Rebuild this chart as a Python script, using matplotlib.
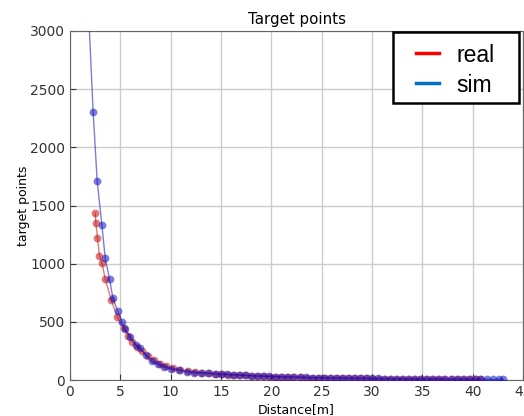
import matplotlib
matplotlib.use("Agg")
import matplotlib.pyplot as plt
from matplotlib.lines import Line2D
from matplotlib.patches import Rectangle

# Measured target points vs distance
real_dist = [2.5, 2.57, 2.73, 2.93, 3.17, 3.5, 4.1, 4.67, 5.33, 5.8,
             6.2, 6.7, 7.2, 7.7, 8.3, 8.9, 9.5, 10.2, 10.9, 11.7,
             12.4, 13.1, 13.8, 14.5, 15.1, 15.7, 16.3, 16.9, 17.5, 18.1,
             18.7, 19.3, 19.9, 20.5, 21.1, 21.7, 22.3, 22.9, 23.5, 24.1,
             24.7, 25.3, 25.9, 26.5, 27.1, 27.7, 28.3, 28.9, 29.5, 30.1,
             30.7, 31.3, 31.9, 32.5, 33.1, 33.7, 34.3, 34.9, 35.5, 36.1,
             36.7, 37.3, 37.9, 38.5, 39.1, 39.7, 40.3, 40.7]
real_points = [1435, 1350, 1220, 1066, 1010, 866, 688, 545, 444, 380,
               330, 285, 245, 205, 170, 140, 118, 100, 88, 76,
               68, 62, 58, 54, 51, 47, 44, 41, 39, 36,
               34, 32, 30, 28, 27, 25, 24, 23, 21, 20,
               19, 18, 17, 16, 15, 15, 14, 13, 13, 12,
               12, 11, 11, 10, 10, 9, 9, 9, 8, 8,
               8, 7, 7, 7, 6, 6, 6, 5]

# Simulated target points vs distance
sim_dist = [1.8, 2.3, 2.7, 3.17, 3.5, 3.93, 4.27, 4.73, 5.17, 5.5,
            6.0, 6.6, 7.0, 7.5, 8.1, 8.7, 9.3, 10.0, 10.8, 11.6,
            12.3, 13.0, 13.7, 14.4, 15.0, 15.6, 16.2, 16.8, 17.4, 18.0,
            18.6, 19.2, 19.8, 20.4, 21.0, 21.6, 22.2, 22.8, 23.4, 24.0,
            24.6, 25.2, 25.8, 26.4, 27.0, 27.6, 28.2, 28.8, 29.4, 30.0,
            30.6, 31.2, 31.8, 32.4, 33.0, 33.6, 34.2, 34.8, 35.4, 36.0,
            36.6, 37.2, 37.8, 38.4, 39.0, 39.6, 40.2, 40.8, 41.4, 42.0,
            42.6, 43.0]
sim_points = [3250, 2300, 1710, 1330, 1046, 865, 702, 595, 495, 435,
              372, 301, 272, 215, 160, 137, 114, 95, 86, 72,
              64, 62, 58, 55, 52, 48, 45, 42, 40, 37,
              35, 33, 31, 29, 28, 26, 25, 24, 22, 21,
              20, 19, 18, 17, 17, 16, 15, 15, 14, 13,
              13, 12, 12, 11, 11, 10, 10, 9, 9, 9,
              8, 8, 8, 7, 7, 7, 6, 6, 6, 5,
              5, 5]

x_ticks = [0, 5, 10, 15, 20, 25, 30, 35, 40, 45]
y_ticks = [0, 500, 1000, 1500, 2000, 2500, 3000]
legend_labels = ["real", "sim"]
legend_colors = ["#ff0000", "#0070c0"]

W, H = 524, 416
fig = plt.figure(figsize=(W / 100, H / 100), dpi=100)
ax = fig.add_axes([70 / W, 1 - 380 / H, (523 - 70) / W, (380 - 31) / H])

ax.plot(real_dist, real_points, "-o", color="#c80c0c", alpha=0.55,
        lw=1.0, ms=5.6, mec="none", zorder=3)
ax.plot(sim_dist, sim_points, "-o", color="#1010c0", alpha=0.55,
        lw=1.0, ms=5.6, mec="none", zorder=3)

ax.set_xlim(0, 45)
ax.set_ylim(0, 3000)
ax.set_xticks(x_ticks)
ax.set_yticks(y_ticks)
ax.grid(True, color="#cccccc", lw=1.0)
ax.set_axisbelow(True)
ax.tick_params(direction="in", labelsize=10, colors="#333333", length=4)
for s in ax.spines.values():
    s.set_color("#666666")

ax.set_title("Target points", fontsize=10.8, pad=5)
ax.set_xlabel("Distance[m]", fontsize=9, labelpad=3)
ax.set_ylabel("target points", fontsize=9, labelpad=0)


def fx(px):
    return px / W


def fy(py):
    return 1 - py / H


# Boxed legend in the top-right corner of the figure
fig.patches.append(Rectangle((fx(393), fy(103)), fx(519) - fx(393), fy(32) - fy(103),
                             transform=fig.transFigure, facecolor="white",
                             edgecolor="black", lw=1.8, zorder=10))
for i, (lab, col) in enumerate(zip(legend_labels, legend_colors)):
    yc = 53 + 30 * i
    fig.lines.append(Line2D([fx(416), fx(439)], [fy(yc), fy(yc)], color=col, lw=2.5,
                            transform=fig.transFigure, zorder=11))
    fig.text(fx(456), fy(yc + 9.5), lab, family="Liberation Sans", fontsize=16.5,
             ha="left", va="baseline", zorder=11)

fig.savefig("out.png", dpi=100)
